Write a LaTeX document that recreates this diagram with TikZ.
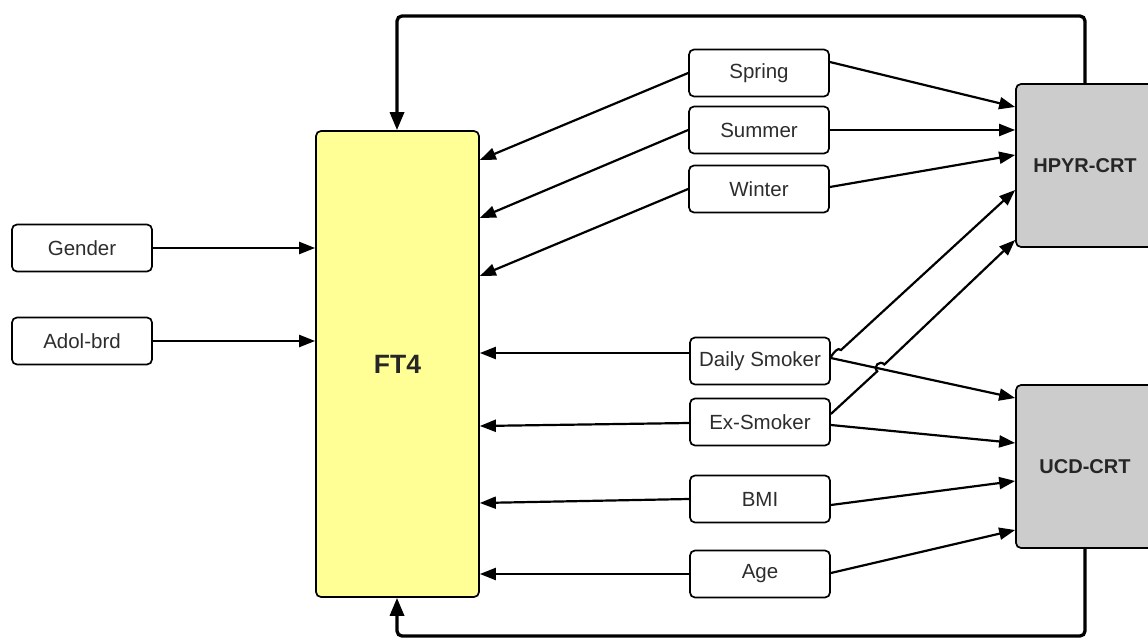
\documentclass[tikz,border=0pt]{standalone}
\usepackage{fontspec}
\setmainfont{Liberation Sans}
\usetikzlibrary{arrows.meta,calc}
\definecolor{ftyellow}{RGB}{255,255,150}
\definecolor{crtgray}{RGB}{204,204,204}
\definecolor{txt}{RGB}{45,45,45}
\begin{document}
\begin{tikzpicture}[x=1pt,y=-1pt,
  var/.style={draw, line width=1.7pt, rounded corners=5pt, fill=white,
    minimum width=140pt, minimum height=47pt, inner sep=0pt,
    font=\fontsize{20.5}{24}\selectfont, text=txt},
  big/.style={draw, line width=1.7pt, rounded corners=5pt, inner sep=0pt,
    font=\bfseries\fontsize{20}{24}\selectfont, text=black!85},
  arr/.style={line width=2.2pt, -{Triangle[length=16pt,width=12pt]}},
  fb/.style={line width=3.3pt, rounded corners=5pt, -{Triangle[length=18pt,width=14pt]}},
]
\useasboundingbox (0,0) rectangle (1148,644);

% outcome and response boxes
\node[big, fill=ftyellow, minimum width=163pt, minimum height=466pt,
  font=\bfseries\fontsize{26.5}{30}\selectfont] (ft4) at (397.5,364) {FT4};
\node[big, fill=crtgray, minimum width=138pt, minimum height=163pt] (hpyr) at (1085,165.5) {HPYR-CRT};
\node[big, fill=crtgray, minimum width=138pt, minimum height=163pt] (ucd) at (1085,466.5) {UCD-CRT};

% covariates
\node[var] (gender) at (82,248) {Gender};
\node[var] (adol) at (82,341) {Adol-brd};
\node[var] (spring) at (759,73) {Spring};
\node[var] (summer) at (759,130) {Summer};
\node[var] (winter) at (759,189) {Winter};
\node[var] (daily) at (760,361) {Daily Smoker};
\node[var] (ex) at (760,422) {Ex-Smoker};
\node[var] (bmi) at (760,499) {BMI};
\node[var] (age) at (760,574) {Age};

% into FT4
\draw[arr] (gender.east) -- (ft4.west |- gender.east);
\draw[arr] (adol.east) -- (ft4.west |- adol.east);
\draw[arr] (spring.west) -- (ft4.east |- 0,160);
\draw[arr] (summer.west) -- (ft4.east |- 0,218);
\draw[arr] (winter.west) -- (ft4.east |- 0,276);
\draw[arr] (daily.west |- 0,353) -- (ft4.east |- 0,353);
\draw[arr] (ex.west |- 0,423) -- (ft4.east |- 0,426);
\draw[arr] (bmi.west) -- (ft4.east |- 0,503);
\draw[arr] (age.west) -- (ft4.east |- 0,574);

% into HPYR-CRT
\draw[arr] (spring.east |- 0,62) -- (hpyr.west |- 0,107);
\draw[arr] (summer.east) -- (hpyr.west |- 0,130);
\draw[arr] (winter.east |- 0,187) -- (hpyr.west |- 0,155);
\draw[arr] (daily.east |- 0,357) .. controls (834,352) and (838,347) .. (841,350)
  -- (hpyr.west |- 0,190);
\coordinate (h1) at (877.2,371.3);
\coordinate (h2) at (884.4,364.5);
\draw[arr] (ex.east |- 0,414) -- (h1)
  .. controls ($(h1)+(-4.6,-4.9)$) and ($(h2)+(-4.6,-4.9)$) .. (h2)
  -- (hpyr.west |- 0,240);

% into UCD-CRT
\draw[arr] (daily.east |- 0,358) -- (ucd.west |- 0,398);
\draw[arr] (ex.east |- 0,425) -- (ucd.west |- 0,443);
\draw[arr] (bmi.east |- 0,505) -- (ucd.west |- 0,481);
\draw[arr] (age.east |- 0,573) -- (ucd.west |- 0,530);

% feedback loops
\draw[fb] (hpyr.north) -- (1085,16) -- (397,16) -- (ft4.north -| 397,0);
\draw[fb] (ucd.south) -- (1085,636) -- (397,636) -- (ft4.south -| 397,0);
\end{tikzpicture}
\end{document}
